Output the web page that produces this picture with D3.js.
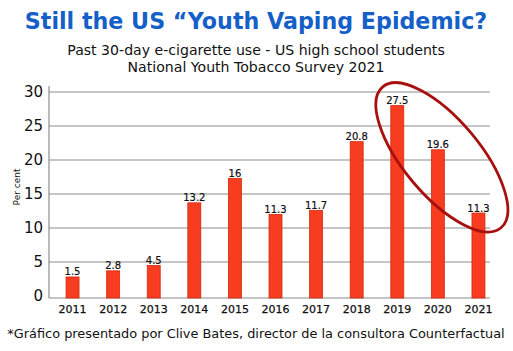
<!DOCTYPE html>
<html><head><meta charset="utf-8">
<script src="https://cdn.jsdelivr.net/npm/d3@7"></script>
<style>
html,body{margin:0;padding:0;background:#fff;}
svg{display:block;font-family:"DejaVu Sans",sans-serif;}
</style></head>
<body>
<script>
// Data
const years = ["2011","2012","2013","2014","2015","2016","2017","2018","2019","2020","2021"];
// bar heights as drawn in the picture
const barValues = [2.8, 3.7, 4.5, 13.7, 17.3, 12.0, 12.6, 22.7, 28.0, 21.5, 12.2];
// printed value labels
const valueLabels = ["1.5","2.8","4.5","13.2","16","11.3","11.7","20.8","27.5","19.6","11.3"];
const yTicks = [0, 5, 10, 15, 20, 25, 30];
const title = "Still the US \u201CYouth Vaping Epidemic?";
const subtitle = ["Past 30-day e-cigarette use - US high school students", "National Youth Tobacco Survey 2021"];
const yLabel = "Per cent";
const footer = "*Gr\u00E1fico presentado por Clive Bates, director de la consultora Counterfactual";
const highlighted = ["2019","2020","2021"];

const W = 513, H = 351;
const svg = d3.select("body").append("svg").attr("width", W).attr("height", H);

const plotLeft = 49, plotRight = 490;
const x = d3.scaleBand().domain(years).range([49, 502]).paddingInner(0.68).paddingOuter(0.42);
const y = d3.scaleLinear().domain([0, 30]).range([296, 92]);
const baseY = 298;

// Title
svg.append("text").attr("x", 256).attr("y", 29).attr("text-anchor", "middle")
  .attr("font-size", 22.2).attr("font-weight", "bold").attr("fill", "#1560c8").text(title);
svg.selectAll("text.sub").data(subtitle).enter().append("text").attr("class","sub")
  .attr("x", 256).attr("y", (d,i) => 55 + i*17).attr("text-anchor", "middle")
  .attr("font-size", 14.1).attr("fill", "#111").text(d => d);

// gridlines
const grid = svg.append("g");
grid.selectAll("line").data(yTicks.filter(t => t > 0)).enter().append("line")
  .attr("x1", plotLeft).attr("x2", plotRight).attr("y1", d => y(d)).attr("y2", d => y(d))
  .attr("stroke", "#8c8c8c").attr("stroke-width", 1.2);
// axes lines
svg.append("line").attr("x1", plotLeft).attr("x2", plotLeft).attr("y1", 86).attr("y2", baseY)
  .attr("stroke", "#8c8c8c").attr("stroke-width", 1.2);
svg.append("line").attr("x1", plotLeft).attr("x2", plotRight).attr("y1", baseY).attr("y2", baseY)
  .attr("stroke", "#8c8c8c").attr("stroke-width", 1.2);

// y tick labels
const yAxis = d3.axisLeft(y).tickValues(yTicks).tickSize(0).tickPadding(6);
const ya = svg.append("g").attr("transform", `translate(${plotLeft},0)`).call(yAxis);
ya.select(".domain").remove();
ya.selectAll("text").attr("font-size", 15).attr("font-family", "DejaVu Sans").attr("fill", "#111");

// x tick labels
const xAxis = d3.axisBottom(x).tickSize(0).tickPadding(7);
const xa = svg.append("g").attr("transform", `translate(0,${baseY})`).call(xAxis);
xa.select(".domain").remove();
xa.selectAll("text").attr("font-size", 11).attr("font-family", "DejaVu Sans")
  .attr("fill", "#111").attr("stroke", "#111").attr("stroke-width", 0.25);

// y label
svg.append("text").attr("transform", "translate(20,187) rotate(-90)").attr("text-anchor", "middle")
  .attr("font-size", 9).attr("fill", "#111").text(yLabel);

// bars
svg.append("g").selectAll("rect").data(years).enter().append("rect")
  .attr("x", d => x(d)).attr("width", x.bandwidth())
  .attr("y", (d,i) => y(barValues[i])).attr("height", (d,i) => baseY - y(barValues[i]))
  .attr("fill", "#f73c1f").attr("stroke", "#d42a12").attr("stroke-width", 0.8);

// value labels
svg.append("g").selectAll("text").data(years).enter().append("text")
  .attr("x", d => x(d) + x.bandwidth()/2).attr("y", (d,i) => y(barValues[i]) - 1.5)
  .attr("text-anchor", "middle").attr("font-size", 10).attr("fill", "#111")
  .attr("stroke", "#111").attr("stroke-width", 0.2)
  .text((d,i) => valueLabels[i]);

// highlight ellipse around the last three bars
const hx = highlighted.map(d => x(d) + x.bandwidth()/2);
const hy = highlighted.map(d => y(barValues[years.indexOf(d)]));
const cx = (d3.min(hx) + d3.max(hx)) / 2 + 4;
const cy = (d3.min(hy) + d3.max(hy)) / 2 - 2;
svg.append("ellipse").attr("cx", cx).attr("cy", cy).attr("rx", 92).attr("ry", 38)
  .attr("transform", `rotate(50,${cx},${cy})`)
  .attr("fill", "none").attr("stroke", "#a8100f").attr("stroke-width", 2.8);

// footer
svg.append("text").attr("x", 256).attr("y", 338).attr("text-anchor", "middle")
  .attr("font-size", 12.9).attr("fill", "#111").text(footer);
</script>
</body></html>
